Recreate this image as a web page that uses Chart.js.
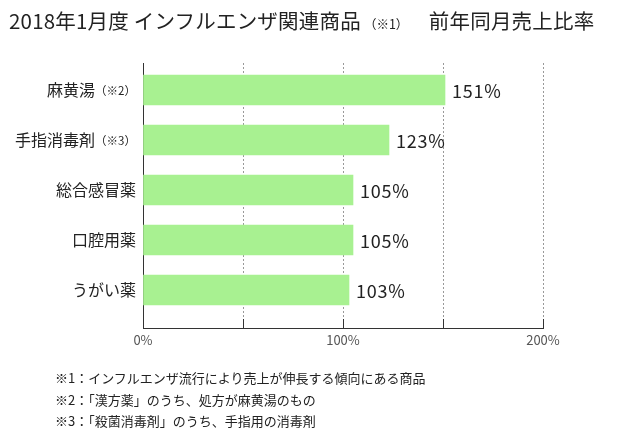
<!DOCTYPE html>
<html>
<head>
<meta charset="utf-8">
<script src="https://cdn.jsdelivr.net/npm/chart.js@4"></script>
<style>
  html, body { margin: 0; padding: 0; background: #fff; }
  body { width: 640px; height: 435px; position: relative; overflow: hidden;
         font-family: "Noto Sans CJK JP", sans-serif; color: #222; }
  #wrap { position: absolute; left: 0; top: 0; width: 640px; height: 435px; }
  .title { position: absolute; left: 9px; top: 5px; font-size: 20.5px; white-space: nowrap; letter-spacing: 0.2px; }
  .title small { font-size: 12.5px; letter-spacing: 0; margin: 0 6px 0 3px; }
  .notes { position: absolute; left: 55px; top: 367px; font-size: 13px; line-height: 21.5px; white-space: nowrap; }
</style>
</head>
<body>
<div id="wrap"><canvas id="c"></canvas></div>
<div class="title">2018年1月度 インフルエンザ関連商品<small>（※1）</small>　前年同月売上比率</div>
<div class="notes">
  ※1：インフルエンザ流行により売上が伸長する傾向にある商品<br>
  ※2：「漢方薬」のうち、処方が麻黄湯のもの<br>
  ※3：「殺菌消毒剤」のうち、手指用の消毒剤
</div>
<script>
const categories = ['麻黄湯', '手指消毒剤', '総合感冒薬', '口腔用薬', 'うがい薬'];
const categoryNotes = ['（※2）', '（※3）', '', '', ''];
const ratios = [151, 123, 105, 105, 103];
const xTicks = [0, 50, 100, 150, 200];
const xTickLabels = ['0%', '', '100%', '', '200%'];

const FONT = '"Noto Sans CJK JP", sans-serif';

// category labels with the smaller note suffix, drawn at the y scale positions
const categoryLabels = {
  id: 'categoryLabels',
  afterDraw(chart) {
    const { ctx, scales: { y } } = chart;
    ctx.save();
    ctx.fillStyle = '#222';
    ctx.textBaseline = 'middle';
    ctx.textAlign = 'right';
    categories.forEach((name, i) => {
      const py = y.getPixelForValue(i);
      let right = 136;
      if (categoryNotes[i]) {
        ctx.font = '11.5px ' + FONT;
        ctx.fillText(categoryNotes[i], right, py + 1);
        right -= ctx.measureText(categoryNotes[i]).width;
      }
      ctx.font = '16px ' + FONT;
      ctx.fillText(name, right, py);
    });
    ctx.restore();
  }
};

// value labels right of each bar, plus the short inner tick marks on the x axis
const valueLabels = {
  id: 'valueLabels',
  afterDatasetsDraw(chart) {
    const { ctx, scales: { x }, chartArea } = chart;
    ctx.save();
    ctx.font = '18px ' + FONT;
    ctx.letterSpacing = '0.8px';
    ctx.fillStyle = '#222';
    ctx.textBaseline = 'middle';
    chart.getDatasetMeta(0).data.forEach((bar, i) => {
      ctx.fillText(ratios[i] + '%', bar.x + 7, bar.y + 1);
    });
    ctx.strokeStyle = '#333';
    ctx.lineWidth = 1;
    xTicks.slice(1).forEach(v => {
      const px = Math.round(x.getPixelForValue(v)) + 0.5;
      ctx.beginPath();
      ctx.moveTo(px, chartArea.bottom);
      ctx.lineTo(px, chartArea.bottom - 9);
      ctx.stroke();
    });
    ctx.restore();
  }
};

new Chart(document.getElementById('c'), {
  type: 'bar',
  data: {
    datasets: [{
      data: ratios.map((v, i) => ({ x: v, y: i })),
      backgroundColor: '#a8f191',
      borderWidth: 0,
      barThickness: 30,
    }],
  },
  options: {
    indexAxis: 'y',
    responsive: true,
    maintainAspectRatio: false,
    animation: false,
    layout: { padding: { top: 63, right: 97, left: 0, bottom: 0 } },
    plugins: { legend: { display: false }, tooltip: { enabled: false } },
    scales: {
      x: {
        type: 'linear',
        min: 0, max: 200,
        afterBuildTicks: s => { s.ticks = xTicks.map(v => ({ value: v })); },
        afterFit: s => { s.height = 107; },
        ticks: {
          callback: (v) => xTickLabels[xTicks.indexOf(v)] ?? '',
          color: '#555',
          font: { family: FONT, size: 13 },
          padding: 4,
          maxRotation: 0,
          autoSkip: false,
        },
        grid: {
          color: '#999',
          drawTicks: false,
        },
        border: { display: true, color: '#333', width: 1, dash: [2, 2] },
      },
      y: {
        type: 'linear',
        reverse: true,
        offset: false,
        min: -0.54, max: 4.76,
        afterBuildTicks: s => { s.ticks = categories.map((_, i) => ({ value: i })); },
        afterFit: s => { s.width = 143; },
        ticks: { display: false },
        grid: { display: false, offset: false },
        border: { display: true, color: '#333', width: 1 },
      },
    },
  },
  plugins: [categoryLabels, valueLabels],
});
</script>
</body>
</html>
